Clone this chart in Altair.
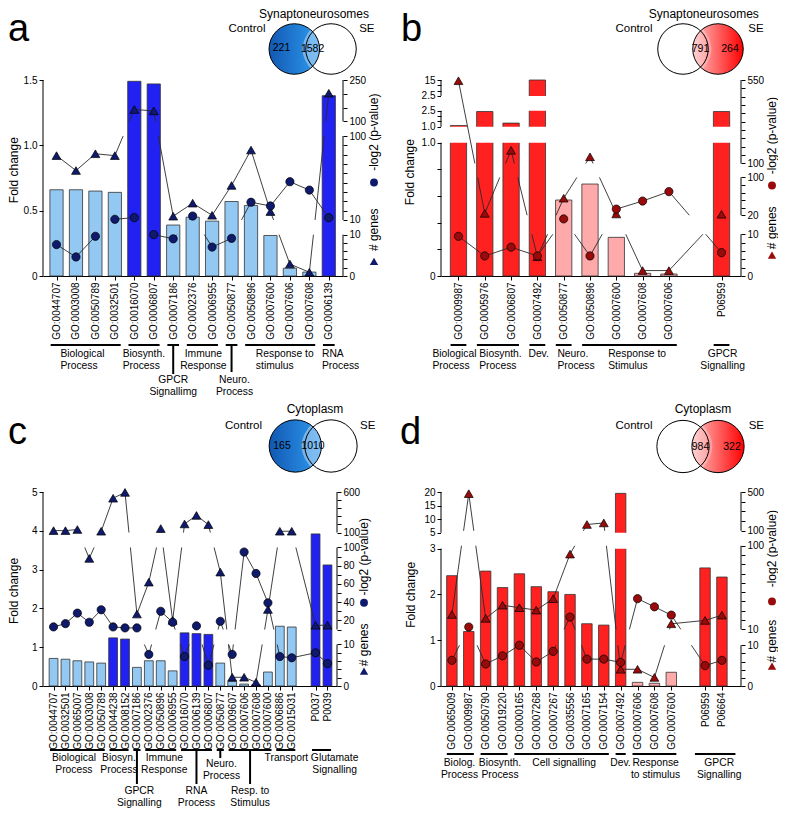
import math
import altair as alt
import pandas as pd

FONT = "Liberation Sans"

# ================= DATA =================
# Panel a: Synaptoneurosomes, Control-enriched terms
a_terms = ["GO:0044707", "GO:0003008", "GO:0050789", "GO:0032501", "GO:0016070",
           "GO:0006807", "GO:0007186", "GO:0002376", "GO:0006955", "GO:0050877",
           "GO:0050896", "GO:0007600", "GO:0007606", "GO:0007608", "GO:0006139"]
a_pos = list(range(15))
a_fold = [0.66, 0.66, 0.65, 0.64, 1.49, 1.47, 0.39, 0.45, 0.42, 0.57, 0.54, 0.31, 0.06, 0.03, 1.38]
a_shade = ["light"] * 4 + ["dark"] * 2 + ["light"] * 8 + ["dark"]
a_genes = [79, 63, 81, 79, 143, 138, 14, 28, 15, 47, 85, 19, 2.9, 0.9, 202]
a_pval = [7.6, 4.6, 9.6, 10.7, 12.5, 10, 9, 14.2, 7, 9.1, 29, 25, 51, 42, 12.4]
a_counts = ["221", "1582"]

# Panel b: Synaptoneurosomes, SE-enriched terms
b_terms = ["GO:0009987", "GO:0005976", "GO:0006807", "GO:0007492", "GO:0050877",
           "GO:0050896", "GO:0007600", "GO:0007608", "GO:0007606", "P06959"]
b_pos = [0, 1, 2, 3, 4, 5, 6, 7, 8, 10]
b_fold = [1.12, 2.43, 1.35, 15.0, 0.57, 0.69, 0.29, 0.02, 0.015, 2.43]
b_shade = ["dark"] * 4 + ["light"] * 5 + ["dark"]
b_genes = [546, 24, 171, 4.6, 56, 136, 22.7, 1.3, 1.3, 22]
b_pval = [9.5, 4.8, 6.9, 4.8, 12.2, 4.8, 33, 50, 70, 5.6]
b_counts = ["791", "264"]

# Panel c: Cytoplasm, Control-enriched terms
c_terms = ["GO:0044707", "GO:0032501", "GO:0065007", "GO:0003008", "GO:0050789",
           "GO:0044238", "GO:0008152", "GO:0007186", "GO:0002376", "GO:0050896",
           "GO:0006955", "GO:0016070", "GO:0006139", "GO:0006807", "GO:0050877",
           "GO:0009607", "GO:0007606", "GO:0007608", "GO:0007600", "GO:0006886",
           "GO:0015031", "P0037", "P0039"]
c_pos = list(range(21)) + [22, 23]
c_fold = [0.71, 0.69, 0.65, 0.62, 0.59, 1.24, 1.21, 0.48, 0.65, 0.65, 0.39, 1.37,
          1.35, 1.33, 0.59, 0.12, 0.05, 0.03, 0.36, 1.54, 1.52, 3.92, 3.12]
c_shade = (["light"] * 5 + ["dark"] * 2 + ["light"] * 4 + ["dark"] * 3 +
           ["light"] * 7 + ["dark"] * 2)
c_genes = [124, 124, 137, 88, 116, 523, 595, 27, 62, 149, 20, 206, 311, 198, 73,
           2.1, 2.1, 0.9, 32, 116, 116, 14.7, 14.7]
c_pval = [12.9, 16.5, 28, 18, 31.7, 12.9, 11.8, 11.8, 7.6, 30, 18, 7.1, 14, 5, 19,
          7.6, 95, 71.5, 39.3, 7.1, 6.8, 8, 5.4]
c_counts = ["165", "1010"]

# Panel d: Cytoplasm, SE-enriched terms
d_terms = ["GO:0065009", "GO:0009987", "GO:0050790", "GO:0019220", "GO:0000165",
           "GO:0007268", "GO:0007267", "GO:0035556", "GO:0007165", "GO:0007154",
           "GO:0007492", "GO:0007606", "GO:0007608", "GO:0007600", "P06959", "P06664"]
d_pos = list(range(14)) + [15, 16]
d_fold = [2.41, 1.19, 2.51, 2.15, 2.45, 2.17, 2.06, 2.0, 1.36, 1.33, 19.5,
          0.08, 0.06, 0.3, 2.58, 2.38]
d_shade = ["dark"] * 11 + ["light"] * 3 + ["dark"] * 2
d_genes = [26, 483, 21.8, 36, 33.3, 30.7, 43, 91, 165, 181, 4.1, 4.1, 2.1, 16, 19.6, 25.3]
d_pval = [6.3, 12.5, 5.4, 7.4, 10, 5.9, 8.5, 23.2, 6.6, 6.6, 5.8, 43, 34.3, 25.3, 5, 6.3]
d_counts = ["984", "322"]

# Category groups: (label, first, last, label anchor, align, label top, connector end)
a_groups = [("Biological\nProcess", 0, 3, 0.2, "left", 73, None),
            ("Biosynth.\nProcess", 4, 5, 3.4, "left", 73, None),
            ("GPCR\nSignallimg", 6, 6, 6.0, "center", 99, 98),
            ("Immune\nResponse", 7, 8, 7.55, "center", 73, None),
            ("Neuro.\nProcess", 9, 9, 9.15, "center", 99, 96),
            ("Response to\nstimulus", 10, 13, 10.25, "left", 73, None),
            ("RNA\nProcess", 14, 14, 13.65, "left", 73, None)]
b_groups = [("Biological\nProcess", 0, 0, -0.99, "left", 73, None),
            ("Biosynth.\nProcess", 1, 2, 0.79, "left", 73, None),
            ("Dev.", 3, 3, 2.66, "left", 73, None),
            ("Neuro.\nProcess", 4, 4, 3.76, "left", 73, None),
            ("Response to\nStimulus", 5, 8, 5.69, "left", 73, None),
            ("GPCR\nSignalling", 10, 10, 10.04, "center", 73, None)]
c_groups = [("Biological\nProcess", 0, 4, 1.71, "center", 67, None),
            ("Biosyn.\nProcess", 5, 6, 5.49, "center", 67, None),
            ("GPCR\nSignalling", 7, 7, 7.2, "center", 100, 98),
            ("Immune\nResponse", 8, 10, 9.3, "center", 67, None),
            ("RNA\nProcess", 11, 13, 12.0, "center", 100, 98),
            ("Neuro.\nProcess", 14, 14, 14.1, "center", 73, 72),
            ("Resp. to\nStimulus", 15, 18, 16.5, "center", 100, 98),
            ("Transport", 19, 20, 19.55, "center", 67, None),
            ("Glutamate\nSignalling", 22, 23, 23.6, "center", 67, None)]
d_groups = [("Biolog.\nProcess", 0, 1, 0.45, "center", 72, None),
            ("Biosynth.\nProcess", 2, 3, 2.85, "center", 72, None),
            ("Cell signalling", 4, 9, 6.65, "center", 72, None),
            ("Dev.", 10, 10, 9.99, "center", 72, None),
            ("Response\nto stimulus", 11, 13, 12.07, "center", 72, None),
            ("GPCR\nSignalling", 14.4, 16.8, 15.84, "center", 72, None)]


# Broken axes: (v0, v1, display0, display1, ticks, labels)
def rng(a, b, s):
    out, v = [], a
    while v <= b + 1e-9:
        out.append(round(v, 4))
        v += s
    return out


A_LEFT = [(0, 1.5, 0.0, 1.0, [0, 0.5, 1.0, 1.5], {0: "0", 0.5: "0.5", 1.0: "1.0", 1.5: "1.5"})]
A_RIGHT = [(0, 10, 0.0, 0.211, rng(0, 10, 2), {0: "0", 10: "10"}),
           (10, 100, 0.286, 0.714, rng(10, 100, 10), {10: "10", 100: "100"}),
           (100, 250, 0.789, 1.0, rng(100, 250, 50), {100: "100", 250: "250"})]
B_LEFT = [(0, 1.0, 0.0, 0.680, rng(0, 1.0, 0.2), {0: "0", 1.0: "1.0"}),
          (1.0, 2.5, 0.761, 0.843, rng(1.0, 2.5, 0.5), {1.0: "1.0", 2.5: "2.5"}),
          (2.5, 15, 0.919, 1.0, [2.5, 6.6667, 10.8333, 15], {2.5: "2.5", 15: "15"})]
B_RIGHT = [(0, 10, 0.0, 0.213, rng(0, 10, 2), {0: "0", 10: "10"}),
           (20, 100, 0.310, 0.503, rng(20, 100, 16), {20: "20", 100: "100"}),
           (100, 550, 0.574, 1.0, rng(100, 550, 45), {100: "100", 550: "550"})]
C_LEFT = [(0, 5, 0.0, 1.0, rng(0, 5, 1), {0: "0", 1: "1", 2: "2", 3: "3", 4: "4", 5: "5"})]
C_RIGHT = [(0, 10, 0.0, 0.214, rng(0, 10, 2), {0: "0", 10: "10"}),
           (10, 100, 0.291, 0.714, rng(10, 100, 10),
            {20: "20", 40: "40", 60: "60", 80: "80", 100: "100"}),
           (100, 600, 0.791, 1.0, rng(100, 600, 100), {100: "100", 600: "600"})]
D_LEFT = [(0, 3, 0.0, 0.708, rng(0, 3, 1), {0: "0", 1: "1", 2: "2", 3: "3"}),
          (5, 20, 0.790, 1.0, rng(5, 20, 5), {5: "5", 10: "10", 15: "15", 20: "20"})]
D_RIGHT = [(0, 10, 0.0, 0.210, rng(0, 10, 2), {0: "0", 10: "10"}),
           (10, 100, 0.292, 0.723, rng(10, 100, 10), {10: "10", 100: "100"}),
           (100, 500, 0.8, 1.0, rng(100, 500, 100), {100: "100", 500: "500"})]

BLUE = dict(dark="#2121f2", light="#93c8f3", marker="#0f1a6c",
            grad=["#1258b2", "#2f9bf0"], lens=0.38)
RED = dict(dark="#ff2020", light="#ffaaaa", marker="#990b0b",
           grad=["#ffc4c4", "#ff0000"], lens=0.25)


# ================= HELPERS =================
def dmap(v, segs):
    s = segs[-1]
    for seg in segs:
        if v <= seg[1] + 1e-9:
            s = seg
            break
    v0, v1, d0, d1 = s[:4]
    return d0 + (v - v0) * (d1 - d0) / (v1 - v0)


def tick_spec(segs):
    vals, pairs = [], []
    for v0, v1, d0, d1, ticks, labels in segs:
        for t in ticks:
            d = round(d0 + (t - v0) * (d1 - d0) / (v1 - v0), 6)
            vals.append(d)
            lab = ""
            for k, s in labels.items():
                if abs(k - t) < 1e-6:
                    lab = s
            pairs.append((d, lab))
    return vals, pairs


def label_expr(pairs):
    expr = "''"
    for d, t in reversed(pairs):
        if t:
            expr = f"abs(datum.value-{d})<0.0005?'{t}':{expr}"
    return expr


def line_pieces(xs, ds, bands):
    rows = []
    for i in range(len(xs) - 1):
        x0, x1, d0, d1 = xs[i], xs[i + 1], ds[i], ds[i + 1]
        keep = [(0.0, 1.0)]
        for lo, hi in bands:
            if abs(d1 - d0) < 1e-12:
                if lo < d0 < hi:
                    keep = []
                continue
            ta, tb = sorted(((lo - d0) / (d1 - d0), (hi - d0) / (d1 - d0)))
            new = []
            for a, b in keep:
                if tb <= a or ta >= b:
                    new.append((a, b))
                    continue
                if ta > a:
                    new.append((a, ta))
                if tb < b:
                    new.append((tb, b))
            keep = new
        for a, b in keep:
            if b - a > 1e-6:
                rows.append(dict(x=x0 + a * (x1 - x0), x2=x0 + b * (x1 - x0),
                                 y=d0 + a * (d1 - d0), y2=d0 + b * (d1 - d0)))
    return rows


def one():
    return pd.DataFrame({"k": [0]})


def txt(t, x, y, size, **kw):
    return alt.Chart(one()).mark_text(text=t, fontSize=size, font=FONT, color="black",
                                      **kw).encode(x=alt.value(x), y=alt.value(y))


def sym(x, y, size, **kw):
    return alt.Chart(one()).mark_point(size=size, opacity=1, **kw).encode(
        x=alt.value(x), y=alt.value(y))


def grad(cols):
    return alt.LinearGradient(gradient="linear", x1=0, x2=1, y1=0, y2=0,
                              stops=[alt.GradientStop(offset=0, color=cols[0]),
                                     alt.GradientStop(offset=1, color=cols[1])])


def venn_layers(v, counts, pal):
    (x1, y1), (x2, y2), r = v["c1"], v["c2"], v["r"]
    D = x2 - x1
    h = math.sqrt(r * r - (D / 2) ** 2)
    w = r - D / 2
    k = 2 * w / h
    lens = f"M0,-1Q{k:.3f},0 0,1Q{-k:.3f},0 0,-1Z"
    csize = math.pi * r * r
    fx, fy = (x1, y1) if v["side"] == "left" else (x2, y2)
    L = [sym(fx, fy, csize, shape="circle", filled=True, fill=grad(pal["grad"]),
             strokeWidth=0),
         sym((x1 + x2) / 2, y1, (2 * h) ** 2, shape=lens, filled=True, fill="white",
             fillOpacity=pal["lens"], strokeWidth=0),
         sym(x1, y1, csize, shape="circle", filled=False, stroke="black", strokeWidth=1),
         sym(x2, y2, csize, shape="circle", filled=False, stroke="black", strokeWidth=1),
         txt(v["title"], v["title_xy"][0], v["title_xy"][1], 12),
         txt("Control", v["ctrl"][0], v["ctrl"][1], 11.5),
         txt("SE", v["se"][0], v["se"][1], 11.5)]
    for c, (nx, ny) in zip(counts, v["nums"]):
        L.append(txt(c, nx, ny, 10.5))
    return L


def build_panel(p):
    W, H = p["W"], p["H"]
    pal = p["pal"]
    xs = alt.Scale(domain=p["xdom"], nice=False, zero=False)
    ys = alt.Scale(domain=[0, 1], nice=False, zero=False)
    pys = alt.Scale(domain=[0, 100], range=[0, 100], nice=False, zero=False)
    left, right = p["left"], p["right"]
    lbands = [(left[i][3], left[i + 1][2]) for i in range(len(left) - 1)]
    rbands = [(right[i][3], right[i + 1][2]) for i in range(len(right) - 1)]
    pos = p["pos"]

    arr = [""] * (max(pos) + 1)
    for i, t in zip(pos, p["terms"]):
        arr[i] = t
    term_expr = "[" + ",".join(f"'{t}'" for t in arr) + "][datum.value]"

    common = dict(grid=False, tickSize=4, tickColor="black", tickWidth=1,
                  labelFontSize=10, labelColor="black", labelFont=FONT,
                  labelFlush=False, labelOverlap=False, title=None)
    xaxis = alt.Axis(values=pos, labelExpr=term_expr, labelAngle=270, labelPadding=2,
                     domain=True, domainColor="black", domainWidth=1, **common)
    lv, lp = tick_spec(left)
    laxis = alt.Axis(orient="left", values=lv, labelExpr=label_expr(lp),
                     labelPadding=2, domain=False, **common)
    rv, rp = tick_spec(right)
    raxis = alt.Axis(orient="right", values=rv, labelExpr=label_expr(rp),
                     labelPadding=2, domain=False, **common)

    def X(field):
        return alt.X(field, scale=xs, axis=xaxis)

    bdf = pd.DataFrame({"pos": pos, "fold": p["fold"], "shade": p["shade"]})
    bdf["x0"] = bdf["pos"] - p["hw"]
    bdf["x1"] = bdf["pos"] + p["hw"]
    bdf["d"] = [dmap(v, left) for v in bdf["fold"]]
    bdf["z"] = 0.0
    bdf["col"] = [pal[s] for s in bdf["shade"]]

    mdf = pd.DataFrame({"pos": pos, "genes": p["genes"], "pval": p["pval"]})
    mdf["dg"] = [dmap(v, right) for v in mdf["genes"]]
    mdf["dp"] = [dmap(v, right) for v in mdf["pval"]]
    seg = (line_pieces(list(mdf["pos"]), list(mdf["dg"]), rbands) +
           line_pieces(list(mdf["pos"]), list(mdf["dp"]), rbands))
    sdf = pd.DataFrame(seg)

    layers = []
    layers.append(alt.Chart(bdf).mark_rect(stroke="#333333", strokeWidth=0.8).encode(
        x=X("x0:Q"), x2="x1:Q",
        y=alt.Y("d:Q", scale=ys, axis=laxis), y2="z:Q",
        fill=alt.Fill("col:N", scale=None)))
    if lbands:
        bd = pd.DataFrame({"lo": [b[0] for b in lbands], "hi": [b[1] for b in lbands]})
        layers.append(alt.Chart(bd).mark_rect(fill="white").encode(
            x=alt.value(0), x2=alt.value(W),
            y=alt.Y("lo:Q", scale=ys, axis=None), y2="hi:Q"))
    layers.append(alt.Chart(sdf).mark_rule(color="#2a2a2a", strokeWidth=0.9).encode(
        x=X("x:Q"), x2="x2:Q",
        y=alt.Y("y:Q", scale=ys, axis=None), y2="y2:Q"))
    layers.append(alt.Chart(mdf).mark_point(shape="triangle-up", filled=True,
                                             fill=pal["marker"], stroke="black",
                                             strokeWidth=0.7, size=78, opacity=1).encode(
        x=X("pos:Q"), y=alt.Y("dg:Q", scale=ys, axis=raxis)))
    layers.append(alt.Chart(mdf).mark_point(shape="circle", filled=True,
                                             fill=pal["marker"], stroke="black",
                                             strokeWidth=0.7, size=68, opacity=1).encode(
        x=X("pos:Q"), y=alt.Y("dp:Q", scale=ys, axis=None)))
    # broken axis lines
    for segs, xv in ((left, 0), (right, W)):
        ad = pd.DataFrame({"lo": [s[2] for s in segs], "hi": [s[3] for s in segs]})
        layers.append(alt.Chart(ad).mark_rule(color="black", strokeWidth=1).encode(
            x=alt.value(xv), y=alt.Y("lo:Q", scale=ys, axis=None), y2="hi:Q"))

    # group brackets and labels
    g = p["groups"]
    e = 0.3
    gb = pd.DataFrame({
        "b0": [(x[1] - e) if isinstance(x[1], int) else x[1] for x in g],
        "b1": [(x[2] + e) if isinstance(x[2], int) else x[2] for x in g],
        "by": [H + p["boff"]] * len(g)})
    layers.append(alt.Chart(gb).mark_rule(color="black", strokeWidth=2).encode(
        x=X("b0:Q"), x2="b1:Q", y=alt.Y("by:Q", scale=pys, axis=None)))
    conn = [x for x in g if x[6] is not None]
    if conn:
        cd = pd.DataFrame({"cx": [(x[1] + x[2]) / 2 for x in conn],
                           "c0": [H + p["boff"]] * len(conn),
                           "c1": [H + x[6] for x in conn]})
        layers.append(alt.Chart(cd).mark_rule(color="black", strokeWidth=2).encode(
            x=X("cx:Q"), y=alt.Y("c0:Q", scale=pys, axis=None), y2="c1:Q"))
    gl = pd.DataFrame({"label": [x[0] for x in g], "ax": [x[3] for x in g],
                       "ty": [H + x[5] for x in g], "al": [x[4] for x in g]})
    for al in ("left", "center"):
        sub = gl[gl["al"] == al]
        if len(sub):
            layers.append(alt.Chart(sub).mark_text(
                align=al, baseline="top", lineBreak="\n", lineHeight=12,
                fontSize=10.3, font=FONT, color="black").encode(
                x=X("ax:Q"), y=alt.Y("ty:Q", scale=pys, axis=None), text="label:N"))

    # titles and symbols
    fr = p["rt"]
    rx = W + p["rtx"]
    layers += [
        txt("Fold change", p["ftx"], p["fty"] * H, 12, angle=270),
        txt("-log2 (p-value)", rx, fr[0] * H, 12, angle=270),
        sym(rx, fr[1] * H, 62, shape="circle", filled=True, fill=pal["marker"],
            strokeWidth=0),
        txt("# genes", rx, fr[2] * H, 12, angle=270),
        sym(rx, fr[3] * H, 70, shape="triangle-up", filled=True, fill=pal["marker"],
            strokeWidth=0),
        txt(p["letter"], p["letter_xy"][0], p["letter_xy"][1], 38, align="left",
            baseline="alphabetic"),
    ]
    layers += venn_layers(p["venn"], p["counts"], pal)

    return alt.layer(*layers).resolve_scale(y="independent").properties(width=W, height=H)


PANELS = [
    dict(letter="a", letter_xy=(-35, -39), W=300, H=196, xdom=[-0.695, 14.73], hw=0.34,
         terms=a_terms, pos=a_pos, fold=a_fold, shade=a_shade, genes=a_genes, pval=a_pval,
         counts=a_counts, groups=a_groups, boff=69, left=A_LEFT, right=A_RIGHT, pal=BLUE,
         rt=(0.266, 0.523, 0.764, 0.925), rtx=31, ftx=-29, fty=0.46,
         venn=dict(side="left", title="Synaptoneurosomes", title_xy=(271, -66),
                   ctrl=(204, -51.5), se=(323.8, -51.5), c1=(251.3, -31),
                   c2=(288, -31), r=28.5, nums=[(238.5, -32.5), (269.6, -31)])),
    dict(letter="b", letter_xy=(-40, -39), W=300, H=196, xdom=[-0.664, 10.74], hw=0.31,
         terms=b_terms, pos=b_pos, fold=b_fold, shade=b_shade, genes=b_genes, pval=b_pval,
         counts=b_counts, groups=b_groups, boff=69, left=B_LEFT, right=B_RIGHT, pal=RED,
         rt=(0.284, 0.538, 0.754, 0.893), rtx=31, ftx=-31, fty=0.47,
         venn=dict(side="right", title="Synaptoneurosomes", title_xy=(262.8, -66),
                   ctrl=(193, -51.5), se=(315, -51.5), c1=(242, -31), c2=(277, -31),
                   r=28.5, nums=[(259.5, -31), (289, -31)])),
    dict(letter="c", letter_xy=(-35, -48), W=294, H=194, xdom=[-0.886, 23.8], hw=0.37,
         terms=c_terms, pos=c_pos, fold=c_fold, shade=c_shade, genes=c_genes, pval=c_pval,
         counts=c_counts, groups=c_groups, boff=64, left=C_LEFT, right=C_RIGHT, pal=BLUE,
         rt=(0.334, 0.571, 0.788, 0.923), rtx=27, ftx=-29, fty=0.51,
         venn=dict(side="left", title="Cytoplasm", title_xy=(272, -83),
                   ctrl=(200.5, -66.3), se=(324.7, -66.3), c1=(252.3, -46),
                   c2=(288, -46), r=29.5, nums=[(239, -46.5), (270, -46)])),
    dict(letter="d", letter_xy=(-41, -48), W=300, H=194, xdom=[-0.645, 17.13], hw=0.31,
         terms=d_terms, pos=d_pos, fold=d_fold, shade=d_shade, genes=d_genes, pval=d_pval,
         counts=d_counts, groups=d_groups, boff=68, left=D_LEFT, right=D_RIGHT, pal=RED,
         rt=(0.292, 0.564, 0.769, 0.897), rtx=31, ftx=-30, fty=0.53,
         venn=dict(side="right", title="Cytoplasm", title_xy=(262, -83),
                   ctrl=(193, -66), se=(315.3, -66), c1=(242, -45.5), c2=(277, -45.5),
                   r=29.5, nums=[(259.5, -45.5), (291, -45.5)])),
]

charts = [build_panel(p) for p in PANELS]

chart = alt.concat(*charts, columns=2, spacing={"row": 216, "column": 98},
                   bounds="flush").properties(padding=0).configure(
    font=FONT).configure_view(stroke=None)

chart.save("out.html", embed_options={"renderer": "svg", "actions": False})
